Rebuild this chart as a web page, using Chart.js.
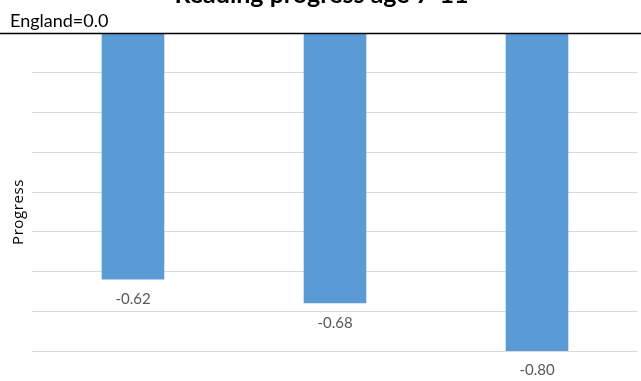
<!DOCTYPE html>
<html>
<head>
<meta charset="utf-8">
<script src="https://cdn.jsdelivr.net/npm/chart.js@4"></script>
<style>
  html, body { margin: 0; padding: 0; background: #fff; }
  #wrap { position: relative; width: 641px; height: 381px; }
</style>
</head>
<body>
<div id="wrap"><canvas id="progress-chart"></canvas></div>
<script>
const categories = ['', '', ''];
const progressValues = [-0.62, -0.68, -0.80];
const valueLabels = ['-0.62', '-0.68', '-0.80'];
const chartTitle = 'Reading progress age 7-11';
const baselineNote = 'England=0.0';
const axisTitle = 'Progress';

const fontFamily = 'Lato, "Open Sans", sans-serif';

// titel, catatan dan label nilai digambar sendiri
const extraText = {
  id: 'extraText',
  afterDraw(chart) {
    const ctx = chart.ctx;
    const yScale = chart.scales.y;
    ctx.save();

    // garis nol hitam selebar kanvas
    const zeroY = Math.round(yScale.getPixelForValue(0)) + 0.5;
    ctx.strokeStyle = '#000000';
    ctx.lineWidth = 1.5;
    ctx.beginPath();
    ctx.moveTo(0, zeroY);
    ctx.lineTo(chart.width, zeroY);
    ctx.stroke();

    ctx.fillStyle = '#000000';
    ctx.font = 'bold 25px ' + fontFamily;
    ctx.textAlign = 'center';
    ctx.textBaseline = 'alphabetic';
    ctx.fillText(chartTitle, chart.width / 2 + 1, 3);

    ctx.font = '18px ' + fontFamily;
    ctx.textAlign = 'left';
    ctx.fillText(baselineNote, 10, 27);

    // judul sumbu y, sedikit lebih ke bawah dari tengah
    ctx.save();
    ctx.translate(23, 212);
    ctx.rotate(-Math.PI / 2);
    ctx.font = '15px "Open Sans", sans-serif';
    ctx.letterSpacing = '0.6px';
    ctx.textAlign = 'center';
    ctx.fillText(axisTitle, 0, 0);
    ctx.restore();

    ctx.fillStyle = '#595959';
    ctx.font = '15px ' + fontFamily;
    ctx.textAlign = 'center';
    ctx.textBaseline = 'middle';
    const meta = chart.getDatasetMeta(0);
    meta.data.forEach((bar, i) => {
      ctx.fillText(valueLabels[i], bar.x, bar.y + 19.5);
    });
    ctx.restore();
  },
};

new Chart(document.getElementById('progress-chart'), {
  type: 'bar',
  data: {
    labels: categories,
    datasets: [
      {
        label: axisTitle,
        data: progressValues,
        backgroundColor: '#5b9bd5',
        borderWidth: 0,
        barPercentage: 0.31,
        categoryPercentage: 1,
      },
    ],
  },
  options: {
    responsive: true,
    maintainAspectRatio: false,
    animation: false,
    layout: {
      padding: { top: 33, right: 3, bottom: 30, left: 0 },
    },
    plugins: {
      legend: { display: false },
      title: { display: false },
      tooltip: { enabled: false },
    },
    scales: {
      x: {
        display: false,
      },
      y: {
        min: -0.8,
        max: 0,
        ticks: { display: false, stepSize: 0.1 },
        grid: { color: '#d9d9d9', drawTicks: false },
        border: { display: false },
        afterFit(scale) {
          scale.width = 32;
        },
      },
    },
  },
  plugins: [extraText],
});
</script>
</body>
</html>
